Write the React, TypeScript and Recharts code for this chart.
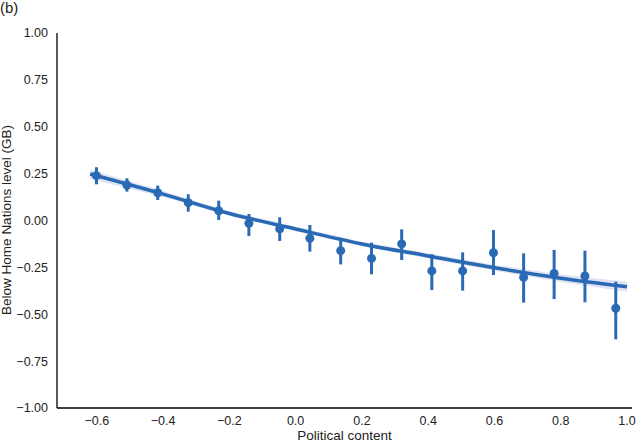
import {
  ComposedChart, Scatter, Line, Area, XAxis, YAxis, ErrorBar, Label,
} from 'recharts'

// ─── Dados ───────────────────────────────────────────────────────────────────

// bins de "Political content" (médias + intervalos)
const binX = [-0.601, -0.509, -0.416, -0.324, -0.232, -0.141, -0.048, 0.043, 0.136, 0.229, 0.32, 0.411, 0.504, 0.597, 0.688, 0.78, 0.873, 0.966]
const binMean = [0.239, 0.189, 0.148, 0.095, 0.052, -0.015, -0.045, -0.095, -0.161, -0.202, -0.125, -0.269, -0.269, -0.172, -0.303, -0.282, -0.296, -0.468]
const binLow = [0.193, 0.154, 0.109, 0.047, 0.003, -0.083, -0.109, -0.166, -0.234, -0.287, -0.211, -0.371, -0.374, -0.291, -0.438, -0.419, -0.436, -0.634]
const binHigh = [0.284, 0.225, 0.186, 0.14, 0.106, 0.035, 0.017, -0.024, -0.092, -0.118, -0.047, -0.179, -0.17, -0.051, -0.175, -0.157, -0.161, -0.326]

// curva ajustada + faixa de confiança
const fitX = [-0.62, -0.4, -0.2, 0, 0.2, 0.4, 0.6, 0.8, 1.0]
const fitY = [0.248, 0.141, 0.037, -0.045, -0.125, -0.189, -0.252, -0.308, -0.353]
const fitLow = [0.222, 0.125, 0.025, -0.057, -0.137, -0.203, -0.268, -0.328, -0.38]
const fitHigh = [0.272, 0.157, 0.049, -0.033, -0.113, -0.175, -0.236, -0.288, -0.326]

const xTicks = [-0.6, -0.4, -0.2, 0, 0.2, 0.4, 0.6, 0.8, 1.0]
const yTicks = [-1, -0.75, -0.5, -0.25, 0, 0.25, 0.5, 0.75, 1]

const AZUL = '#2a6ab4'
const FONTE = 'Liberation Sans, Arial, sans-serif'

const fmt = (v: number, casas: number) => {
  const s = Math.abs(v).toFixed(casas)
  return v < -1e-9 ? `\u2212${s}` : s
}

export default function App() {
  const pontos = binX.map((x, i) => ({
    x,
    y: binMean[i],
    err: [binMean[i] - binLow[i], binHigh[i] - binMean[i]],
  }))
  const curva = fitX.map((x, i) => ({ x, fit: fitY[i], band: [fitLow[i], fitHigh[i]] }))

  return (
    <div style={{ position: 'absolute', left: 0, top: 0, width: 643, height: 443, background: '#fff', fontFamily: FONTE }}>
      <ComposedChart width={643} height={443} margin={{ top: 33, right: 11, left: 0, bottom: 0 }}>
        <XAxis
          type="number"
          dataKey="x"
          domain={[-0.72, 1.015]}
          ticks={xTicks}
          allowDataOverflow
          tickFormatter={(v) => fmt(v, 1)}
          tickLine={false}
          axisLine={{ stroke: '#000', strokeWidth: 1.3 }}
          tick={{ fontSize: 12.5, fill: '#222', fontFamily: FONTE }}
          height={35}
        >
          <Label value="Political content" position="insideBottom" offset={3} style={{ fontSize: 13.5, fill: '#222', fontFamily: FONTE }} />
        </XAxis>
        <YAxis
          type="number"
          domain={[-1, 1]}
          ticks={yTicks}
          allowDataOverflow
          tickFormatter={(v) => fmt(v, 2)}
          tickLine={false}
          tickSize={7}
          axisLine={{ stroke: '#000', strokeWidth: 1.3 }}
          tick={{ fontSize: 12.5, fill: '#222', fontFamily: FONTE }}
          width={57}
        >
          <Label
            content={() => (
              <text
                x={11}
                y={220}
                transform="rotate(-90 11 220)"
                textAnchor="middle"
                style={{ fontSize: 13.5, fill: '#222', fontFamily: FONTE }}
              >
                Below Home Nations level (GB)
              </text>
            )}
          />
        </YAxis>

        <Area
          data={curva}
          dataKey="band"
          stroke="none"
          fill="#b9c3e6"
          fillOpacity={0.45}
          isAnimationActive={false}
        />
        <Line
          data={curva}
          dataKey="fit"
          type="monotone"
          stroke={AZUL}
          strokeWidth={3.5}
          dot={false}
          isAnimationActive={false}
        />
        <Scatter data={pontos} dataKey="y" fill={AZUL} isAnimationActive={false} shape={(p: any) => <circle cx={p.cx} cy={p.cy} r={4.5} fill={AZUL} />}>
          <ErrorBar dataKey="err" direction="y" width={0} stroke={AZUL} strokeWidth={3} />
        </Scatter>
      </ComposedChart>
      <div style={{ position: 'absolute', left: 0, top: -1, fontSize: 15, lineHeight: '18px', color: '#222', fontFamily: FONTE }}>(b)</div>
    </div>
  )
}
